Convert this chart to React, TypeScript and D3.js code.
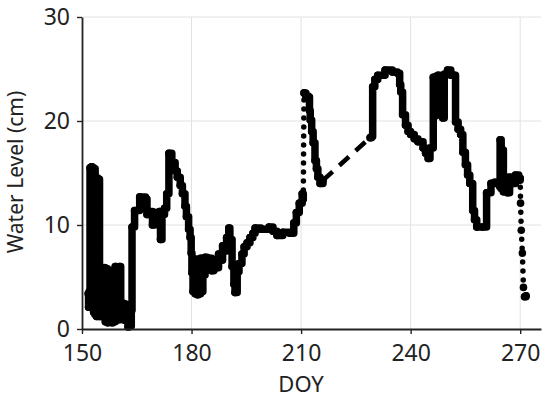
import React, { useEffect, useRef } from "react";
import * as d3 from "d3";

// day of year and water level (cm)
// segStyle: how the segment ending at that point is drawn
// s = dense logger points, d = sparse dots (fast change), g = data gap (dashed)
const doy = [
  151.7, 151.8, 152.0, 152.2, 152.4, 152.6, 152.8, 153.0, 153.2, 153.4, 153.6, 153.8,
  154.0, 154.2, 154.4, 154.6, 154.8, 155.0, 155.3, 155.6, 155.9, 156.1, 156.4, 156.7,
  157.0, 157.3, 157.6, 157.9, 158.2, 158.5, 158.8, 159.1, 159.4, 159.7, 160.0, 160.3,
  160.6, 160.9, 161.3, 161.7, 162.0, 162.3, 162.6, 162.9, 163.2, 163.5, 163.7, 164.4,
  165.8, 167.4, 167.8, 168.5, 169.3, 169.9, 170.6, 171.2, 171.5, 171.9, 172.6, 173.2,
  173.8, 174.6, 175.5, 176.1, 176.9, 177.5, 178.2, 178.6, 179.2, 179.6, 179.9, 180.1,
  180.4, 180.7, 181.0, 181.3, 181.6, 181.9, 182.2, 182.5, 182.8, 183.1, 183.4, 183.7,
  184.3, 184.9, 185.5, 186.1, 186.8, 187.4, 187.9, 188.5, 189.0, 189.6, 190.2, 190.5,
  191.1, 191.6, 191.9, 192.5, 193.0, 193.8, 194.4, 195.2, 196.0, 196.8, 197.4, 199.0,
  201.2, 202.3, 203.4, 205.0, 206.9, 208.0, 208.7, 209.5, 210.3, 210.6, 210.8, 211.3,
  212.0, 212.3, 212.5, 212.9, 213.3, 213.8, 214.2, 214.6, 215.2, 216.0, 228.9, 229.3,
  229.6, 230.2, 231.0, 233.0, 235.0, 236.4, 237.0, 237.3, 237.8, 238.6, 239.3, 240.0,
  241.0, 242.0, 243.4, 244.1, 244.8, 245.3, 246.2, 246.6, 247.0, 247.5, 248.0, 248.4,
  248.8, 249.2, 250.1, 251.0, 252.0, 252.3, 253.0, 253.7, 254.3, 255.0, 255.6, 256.2,
  257.0, 257.5, 258.1, 259.7, 260.8, 262.0, 263.0, 264.4, 264.5, 264.8, 265.1, 265.4,
  265.8, 266.5, 267.1, 268.0, 268.7, 269.6, 270.0, 270.1, 270.3, 270.6, 270.9, 271.2,
  271.6,
];
const level = [
  3.4, 2.1, 3.6, 15.5, 2.8, 15.6, 2.0, 15.5, 1.6, 15.4, 1.4, 14.6,
  1.2, 14.5, 1.3, 14.4, 1.2, 4.7, 1.2, 4.6, 1.5, 5.9, 0.7, 5.8,
  0.6, 5.6, 0.8, 5.4, 0.6, 5.3, 0.7, 6.0, 0.9, 5.9, 0.9, 6.0,
  1.0, 2.5, 0.9, 2.4, 0.8, 2.1, 0.2, 2.0, 0.3, 1.8, 9.8, 11.4,
  12.7, 12.5, 11.0, 11.3, 10.0, 11.2, 10.6, 11.3, 8.6, 11.0, 11.6, 13.0,
  16.9, 16.0, 15.2, 14.6, 13.8, 13.0, 11.8, 10.8, 9.6, 8.8, 7.3, 5.4,
  3.6, 6.6, 3.4, 6.7, 3.3, 6.6, 3.4, 6.8, 3.6, 6.5, 5.2, 6.9,
  5.8, 6.8, 5.6, 6.4, 5.9, 7.2, 6.6, 8.0, 7.5, 8.8, 9.7, 8.6,
  6.0, 4.3, 3.5, 5.5, 6.3, 7.2, 7.9, 8.3, 8.8, 9.2, 9.7, 9.6,
  9.8, 9.4, 9.0, 9.3, 9.2, 10.2, 11.2, 12.1, 13.0, 12.5, 22.7, 22.4,
  22.3, 21.0, 20.1, 19.0, 17.9, 16.2, 15.4, 14.6, 14.0, 14.3, 18.4, 18.5,
  23.3, 24.0, 24.4, 24.9, 24.7, 24.6, 23.5, 22.8, 20.6, 19.6, 19.0, 18.7,
  18.3, 18.0, 17.4, 16.9, 16.4, 17.4, 24.2, 20.5, 24.3, 24.4, 20.6, 24.0,
  20.3, 24.5, 24.9, 24.4, 24.4, 19.9, 19.2, 18.7, 17.0, 15.8, 14.8, 14.0,
  11.4, 10.5, 9.8, 9.8, 13.1, 14.0, 14.1, 13.7, 18.2, 13.5, 17.2, 13.2,
  14.6, 13.1, 14.6, 14.0, 14.8, 14.3, 14.5, 12.1, 9.5, 7.3, 4.0, 3.1,
  3.2,
];
const segStyle = doy.map((d, i) => {
  if (i === 118) return "d"; // jump at DOY ~211
  if (i === 130) return "g"; // logger gap DOY 216-229
  if (i >= 187 && i <= 191) return "d"; // drop at the end
  return "s";
});

const xTicks = [150, 180, 210, 240, 270];
const yTicks = [0, 10, 20, 30];

const W = 550;
const H = 397;
const font = "'Noto Sans', sans-serif";

type Pt = { x: number; y: number; s: string };

export default function App() {
  const ref = useRef<SVGSVGElement>(null);

  useEffect(() => {
    const svg = d3.select(ref.current);
    svg.selectAll("*").remove();

    const x = d3.scaleLinear().domain([150, 275.7]).range([82, 541]);
    const y = d3.scaleLinear().domain([0, 30]).range([329, 17]);

    // grid
    svg.append("g")
      .selectAll("line")
      .data(xTicks.filter((t) => t > 150))
      .join("line")
      .attr("x1", (d) => x(d)).attr("x2", (d) => x(d))
      .attr("y1", y(0)).attr("y2", y(30))
      .attr("stroke", "#e2e2e2").attr("stroke-width", 1);
    svg.append("g")
      .selectAll("line")
      .data(yTicks.filter((t) => t > 0))
      .join("line")
      .attr("x1", x(150)).attr("x2", 541)
      .attr("y1", (d) => y(d)).attr("y2", (d) => y(d))
      .attr("stroke", "#e2e2e2").attr("stroke-width", 1);

    const pts: Pt[] = doy.map((d, i) => ({ x: d, y: level[i], s: segStyle[i] }));
    const stepLine = d3.line<Pt>().x((d) => x(d.x)).y((d) => y(d.y)).curve(d3.curveStepAfter);
    const straight = d3.line<Pt>().x((d) => x(d.x)).y((d) => y(d.y));
    const g = svg.append("g");

    // group consecutive solid segments into runs, draw the rest one by one
    let run: Pt[] = [pts[0]];
    const flush = () => {
      if (run.length > 1) {
        g.append("path").attr("d", stepLine(run)).attr("fill", "none")
          .attr("stroke", "#000").attr("stroke-width", 7.5)
          .attr("stroke-linejoin", "round").attr("stroke-linecap", "round");
      }
    };
    for (let i = 1; i < pts.length; i++) {
      const a = pts[i - 1];
      const b = pts[i];
      if (b.s === "s") {
        run.push(b);
        continue;
      }
      flush();
      const seg = g.append("path").attr("d", straight([a, b])).attr("fill", "none").attr("stroke", "#000");
      if (b.s === "d") {
        seg.attr("stroke-width", 5.5).attr("stroke-dasharray", "0 9").attr("stroke-linecap", "round");
      } else {
        seg.attr("stroke-width", 4.5).attr("stroke-dasharray", "13 9");
      }
      run = [b];
    }
    flush();

    g.selectAll("circle")
      .data(pts)
      .join("circle")
      .attr("cx", (d) => x(d.x)).attr("cy", (d) => y(d.y))
      .attr("r", 3.8).attr("fill", "#000");

    // axes
    const xa = svg.append("g").attr("transform", `translate(0,${y(0)})`)
      .call(d3.axisBottom(x).tickValues(xTicks).tickSize(5).tickSizeOuter(0).tickPadding(11));
    xa.select(".domain").attr("stroke", "#222").attr("stroke-width", 1.8);
    xa.selectAll(".tick line").attr("stroke", "#222").attr("stroke-width", 1.4);
    xa.selectAll("text").attr("font-family", font).attr("font-size", 23).attr("fill", "#222");

    const ya = svg.append("g").attr("transform", `translate(${x(150)},0)`)
      .call(d3.axisLeft(y).tickValues(yTicks).tickSize(5).tickSizeOuter(0).tickPadding(7));
    ya.select(".domain").attr("stroke", "#222").attr("stroke-width", 1.8);
    ya.selectAll(".tick line").attr("stroke", "#222").attr("stroke-width", 1.4);
    ya.selectAll("text").attr("font-family", font).attr("font-size", 23).attr("fill", "#222");

    svg.append("text")
      .attr("x", x(210)).attr("y", 392)
      .attr("text-anchor", "middle")
      .attr("font-family", font).attr("font-size", 22).attr("fill", "#222")
      .text("DOY");

    svg.append("text")
      .attr("transform", `translate(23,172) rotate(-90)`)
      .attr("text-anchor", "middle")
      .attr("font-family", font).attr("font-size", 21).attr("fill", "#222")
      .text("Water Level (cm)");
  }, []);

  return (
    <svg ref={ref} width={W} height={H}
      style={{ position: "absolute", left: 0, top: 0, background: "#fff" }} />
  );
}
